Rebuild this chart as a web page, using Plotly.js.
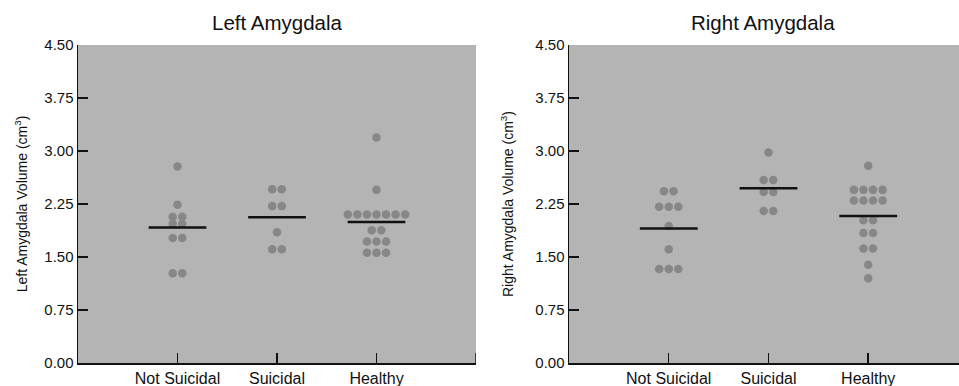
<!DOCTYPE html>
<html>
<head>
<meta charset="utf-8">
<script src="https://cdn.plot.ly/plotly-3.0.1.min.js"></script>
<style>html,body{margin:0;padding:0;background:#fff;}#chart{width:959px;height:386px;}</style>
</head>
<body>
<div id="chart"></div>
<script>
const categories = ['Not Suicidal', 'Suicidal', 'Healthy'];
const yTickVals = [0, 0.75, 1.5, 2.25, 3, 3.75, 4.5];
const yTickText = ['0.00', '0.75', '1.50', '2.25', '3.00', '3.75', '4.50'];

const leftNotSuicidal = [2.78, 2.24, 2.07, 2.07, 1.97, 1.97, 1.77, 1.77, 1.27, 1.27];
const leftSuicidal = [2.46, 2.46, 2.22, 2.22, 1.85, 1.61, 1.61];
const leftHealthy = [3.19, 2.45, 2.10, 2.10, 2.10, 2.10, 2.10, 2.10, 2.10, 1.88, 1.88, 1.72, 1.72, 1.72, 1.56, 1.56, 1.56];

const rightNotSuicidal = [2.43, 2.43, 2.21, 2.21, 2.21, 1.94, 1.61, 1.33, 1.33, 1.33];
const rightSuicidal = [2.98, 2.59, 2.59, 2.42, 2.42, 2.15, 2.15];
const rightHealthy = [2.79, 2.45, 2.45, 2.45, 2.45, 2.30, 2.30, 2.30, 2.30, 2.02, 2.02, 1.84, 1.84, 1.62, 1.62, 1.39, 1.20];

const SPACING = 0.096;
const HALF = 0.29;

function swarm(values, center) {
  const groups = {};
  values.forEach(v => { const k = v.toFixed(3); (groups[k] = groups[k] || []).push(v); });
  const xs = [], ys = [];
  Object.keys(groups).forEach(k => {
    const g = groups[k];
    g.forEach((v, i) => { xs.push(center + (i - (g.length - 1) / 2) * SPACING); ys.push(v); });
  });
  return {xs, ys};
}
const mean = a => a.reduce((s, v) => s + v, 0) / a.length;

const traces = [];
function addPanel(groups, xa, ya) {
  groups.forEach((vals, i) => {
    const c = i + 1;
    const s = swarm(vals, c);
    traces.push({type: 'scatter', mode: 'markers', x: s.xs, y: s.ys, xaxis: xa, yaxis: ya,
      marker: {size: 8.5, color: '#878787'}, hoverinfo: 'y', showlegend: false});
  });
  groups.forEach((vals, i) => {
    const c = i + 1, m = mean(vals);
    traces.push({type: 'scatter', mode: 'lines', x: [c - HALF, c + HALF], y: [m, m], xaxis: xa, yaxis: ya,
      line: {color: '#111', width: 2.5}, hoverinfo: 'skip', showlegend: false});
  });
}
addPanel([leftNotSuicidal, leftSuicidal, leftHealthy], 'x', 'y');
addPanel([rightNotSuicidal, rightSuicidal, rightHealthy], 'x2', 'y2');

const W = 959, H = 386;
const yDom = [(H - 363) / H, (H - 45) / H];
const fontFam = 'Liberation Sans, Arial, sans-serif';

function xAxis(dom, rng) {
  return {domain: dom, range: rng, showgrid: false, zeroline: false, showline: true, linecolor: '#111', linewidth: 1.5,
    ticks: 'inside', ticklen: 10, tickwidth: 1.5, tickcolor: '#111',
    tickvals: [1, 2, 3], ticktext: categories,
    tickfont: {size: 16, color: '#111', family: fontFam}, fixedrange: true};
}
function yAxis(dom, anchor, title, standoff) {
  return {domain: dom, anchor: anchor, range: [0, 4.5], showgrid: false, zeroline: false, showline: true, linecolor: '#111', linewidth: 1.5,
    ticks: 'inside', ticklen: 10, tickwidth: 1.5, tickcolor: '#111',
    tickvals: yTickVals, ticktext: yTickText,
    tickfont: {size: 15, color: '#111', family: fontFam},
    title: {text: title, font: {size: 14, color: '#111', family: fontFam}, standoff: standoff}, fixedrange: true};
}

const layout = {
  width: W, height: H,
  margin: {l: 0, r: 0, t: 0, b: 0},
  paper_bgcolor: '#ffffff', plot_bgcolor: '#b4b4b4',
  font: {family: fontFam, color: '#111'},
  xaxis: Object.assign(xAxis([78 / W, 476 / W], [0, 4]), {anchor: 'y'}),
  yaxis: yAxis(yDom, 'x', 'Left Amygdala Volume (cm<sup>3</sup>)', 13),
  xaxis2: Object.assign(xAxis([569 / W, 1], [0, 3.91]), {anchor: 'y2'}),
  yaxis2: yAxis(yDom, 'x2', 'Right Amygdala Volume (cm<sup>3</sup>)', 18),
  shapes: [
    {type: 'line', xref: 'x', yref: 'y', ysizemode: 'pixel', yanchor: 0, x0: 4, x1: 4, y0: 0, y1: 10, line: {color: '#111', width: 1.5}}
  ],
  annotations: [
    {text: 'Left Amygdala', xref: 'paper', yref: 'paper', x: 277 / W, y: (H - 23) / H, xanchor: 'center', yanchor: 'middle', showarrow: false, font: {size: 20.5, color: '#111', family: fontFam}},
    {text: 'Right Amygdala', xref: 'paper', yref: 'paper', x: 763 / W, y: (H - 23) / H, xanchor: 'center', yanchor: 'middle', showarrow: false, font: {size: 20.5, color: '#111', family: fontFam}}
  ],
  showlegend: false
};

Plotly.newPlot('chart', traces, layout, {displayModeBar: false, staticPlot: true});
</script>
</body>
</html>
